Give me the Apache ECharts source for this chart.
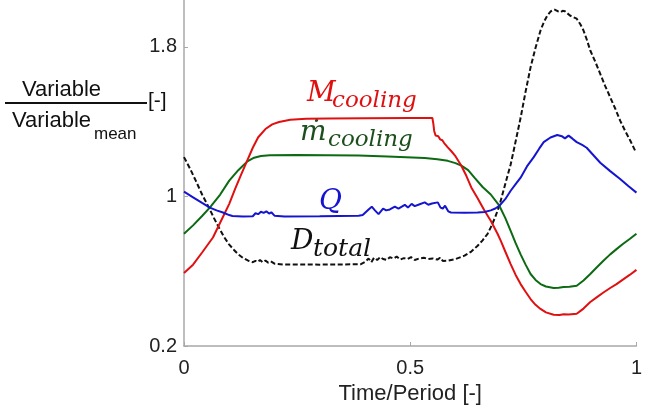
<!DOCTYPE html>
<html><head><meta charset="utf-8">
<script src="https://cdn.jsdelivr.net/npm/echarts@6/dist/echarts.min.js"></script>
<style>html,body{margin:0;padding:0;background:#fff}#c{width:645px;height:410px}</style>
</head><body><div id="c"></div>
<script>
const xTicks = [0, 0.5, 1];
const yTicks = [0.2, 1, 1.8];

const mCooling = [[0,0.59],[0.02,0.635],[0.04,0.70],[0.064,0.78],[0.086,0.89],[0.1,0.96],[0.113,1.04],[0.126,1.115],[0.139,1.187],[0.152,1.26],[0.164,1.316],[0.18,1.36],[0.195,1.385],[0.21,1.398],[0.235,1.41],[0.27,1.415],[0.32,1.417],[0.4,1.418],[0.5,1.419],[0.549,1.419],[0.551,1.39],[0.553,1.35],[0.556,1.325],[0.562,1.322],[0.566,1.305],[0.571,1.30],[0.575,1.285],[0.579,1.28],[0.583,1.262],[0.587,1.258],[0.59,1.244],[0.6,1.215],[0.613,1.164],[0.624,1.11],[0.635,1.048],[0.649,0.99],[0.664,0.924],[0.678,0.87],[0.693,0.80],[0.70,0.763],[0.711,0.70],[0.722,0.638],[0.733,0.58],[0.744,0.531],[0.755,0.49],[0.766,0.451],[0.777,0.42],[0.788,0.398],[0.80,0.38],[0.817,0.367],[0.83,0.366],[0.839,0.37],[0.85,0.368],[0.868,0.372],[0.883,0.40],[0.898,0.435],[0.912,0.46],[0.927,0.486],[0.942,0.51],[0.956,0.531],[0.97,0.555],[0.985,0.58],[1,0.607]];

const mDotCooling = [[0,0.80],[0.02,0.845],[0.04,0.895],[0.057,0.94],[0.08,1.01],[0.10,1.084],[0.12,1.14],[0.14,1.187],[0.155,1.207],[0.17,1.216],[0.19,1.22],[0.25,1.221],[0.386,1.218],[0.45,1.213],[0.532,1.205],[0.56,1.199],[0.583,1.19],[0.60,1.178],[0.613,1.164],[0.628,1.14],[0.642,1.10],[0.66,1.05],[0.678,1.01],[0.697,0.95],[0.71,0.885],[0.722,0.816],[0.733,0.75],[0.744,0.69],[0.755,0.635],[0.766,0.585],[0.777,0.553],[0.788,0.531],[0.80,0.518],[0.817,0.51],[0.828,0.512],[0.839,0.515],[0.852,0.517],[0.868,0.522],[0.883,0.55],[0.898,0.585],[0.912,0.62],[0.927,0.656],[0.942,0.69],[0.956,0.718],[0.97,0.745],[0.985,0.772],[1,0.80]];

const qValues = [[0,1.025],[0.02,0.995],[0.04,0.965],[0.057,0.94],[0.072,0.925],[0.086,0.914],[0.1,0.9],[0.107,0.895],[0.13,0.893],[0.152,0.894],[0.158,0.91],[0.164,0.905],[0.17,0.918],[0.176,0.912],[0.182,0.92],[0.188,0.908],[0.193,0.915],[0.2,0.897],[0.222,0.893],[0.3,0.894],[0.386,0.897],[0.395,0.9],[0.408,0.93],[0.415,0.945],[0.422,0.925],[0.43,0.905],[0.44,0.935],[0.447,0.925],[0.455,0.93],[0.466,0.945],[0.474,0.935],[0.488,0.955],[0.495,0.94],[0.503,0.96],[0.51,0.948],[0.518,0.955],[0.532,0.968],[0.54,0.955],[0.548,0.962],[0.561,0.968],[0.567,0.94],[0.572,0.935],[0.577,0.95],[0.584,0.92],[0.59,0.914],[0.62,0.913],[0.649,0.914],[0.664,0.916],[0.678,0.925],[0.688,0.935],[0.697,0.95],[0.71,0.985],[0.722,1.03],[0.733,1.065],[0.744,1.10],[0.758,1.16],[0.773,1.21],[0.785,1.255],[0.795,1.29],[0.81,1.315],[0.825,1.328],[0.835,1.322],[0.842,1.31],[0.85,1.325],[0.858,1.31],[0.868,1.29],[0.88,1.275],[0.89,1.26],[0.905,1.22],[0.92,1.18],[0.942,1.135],[0.964,1.093],[0.982,1.055],[1,1.02]];

const dTotal = [[0,1.21],[0.013,1.15],[0.026,1.084],[0.04,1.01],[0.055,0.94],[0.066,0.885],[0.077,0.834],[0.088,0.785],[0.099,0.745],[0.11,0.715],[0.12,0.69],[0.131,0.67],[0.142,0.656],[0.152,0.648],[0.158,0.655],[0.163,0.65],[0.168,0.66],[0.174,0.648],[0.18,0.657],[0.186,0.646],[0.192,0.652],[0.2,0.64],[0.22,0.636],[0.3,0.635],[0.39,0.637],[0.4,0.65],[0.408,0.668],[0.414,0.648],[0.42,0.672],[0.427,0.66],[0.434,0.676],[0.44,0.665],[0.448,0.66],[0.455,0.675],[0.463,0.668],[0.47,0.678],[0.478,0.662],[0.486,0.67],[0.494,0.665],[0.502,0.675],[0.51,0.66],[0.52,0.668],[0.53,0.672],[0.54,0.665],[0.55,0.668],[0.56,0.662],[0.566,0.672],[0.572,0.655],[0.583,0.656],[0.6,0.665],[0.62,0.683],[0.635,0.705],[0.649,0.736],[0.66,0.765],[0.671,0.80],[0.678,0.834],[0.688,0.89],[0.697,0.95],[0.706,1.03],[0.715,1.11],[0.722,1.17],[0.73,1.26],[0.737,1.34],[0.744,1.42],[0.755,1.56],[0.766,1.69],[0.777,1.795],[0.788,1.887],[0.796,1.935],[0.803,1.967],[0.811,1.99],[0.819,1.999],[0.826,1.99],[0.832,1.985],[0.837,1.992],[0.842,1.99],[0.853,1.967],[0.868,1.95],[0.876,1.92],[0.883,1.887],[0.89,1.84],[0.898,1.78],[0.909,1.72],[0.92,1.655],[0.931,1.59],[0.942,1.53],[0.953,1.47],[0.964,1.405],[0.975,1.35],[0.986,1.3],[0.997,1.245]];

const sans = 'Liberation Sans, Arial, sans-serif';
const serif = 'DejaVu Serif, serif';
const chart = echarts.init(document.getElementById('c'), null, {renderer:'canvas'});
const axisCommon = {
  axisLine:{show:true, lineStyle:{color:'#a8a8a8', width:1.5}},
  axisTick:{show:true, inside:true, length:4, lineStyle:{color:'#a8a8a8'}},
  splitLine:{show:false},
  axisLabel:{color:'#222', fontSize:20, fontFamily:sans}
};
function lineSeries(name, data, color, type){
  return {name, type:'line', data, symbol:'none', smooth:false, z:2,
    lineStyle:{color, width:2, type: type||'solid'}};
}
chart.setOption({
  animation:false,
  backgroundColor:'#fff',
  grid:{left:184, right:5, top:0, bottom:64},
  xAxis:Object.assign({}, axisCommon, {
    type:'value', min:0, max:1,
    name:'Time/Period [-]', nameLocation:'middle', nameGap:37,
    nameTextStyle:{color:'#222', fontSize:22, fontFamily:sans},
    axisTick:Object.assign({}, axisCommon.axisTick, {customValues:xTicks}),
    axisLabel:Object.assign({}, axisCommon.axisLabel, {margin:12, customValues:xTicks, formatter:v=>String(v)})
  }),
  yAxis:Object.assign({}, axisCommon, {
    type:'value', min:0.2, max:2.05,
    axisTick:Object.assign({}, axisCommon.axisTick, {customValues:yTicks}),
    axisLabel:Object.assign({}, axisCommon.axisLabel, {margin:7, customValues:yTicks, formatter:v=>String(v)})
  }),
  series:[
    lineSeries('D_total', dTotal, '#111', [5,2.5]),
    lineSeries('m_dot_cooling', mDotCooling, '#0b6a12'),
    lineSeries('M_cooling', mCooling, '#e01010'),
    lineSeries('Q', qValues, '#1515d0')
  ],
  graphic:[
    {type:'text', left:22, top:79, style:{text:'Variable', fontSize:22, fontFamily:sans, fill:'#111'}},
    {type:'line', shape:{x1:5, y1:103, x2:147, y2:103}, style:{stroke:'#111', lineWidth:2}},
    {type:'text', left:148, top:91, style:{text:'[-]', fontSize:21, fontFamily:sans, fill:'#111'}},
    {type:'text', left:12, top:110, style:{text:'Variable', fontSize:22, fontFamily:sans, fill:'#111'}},
    {type:'text', left:94, top:126, style:{text:'mean', fontSize:17, fontFamily:sans, fill:'#111'}},

    {type:'text', left:307, top:80, style:{text:'M', fontSize:28, fontStyle:'italic', fontFamily:serif, fill:'#e01010'}},
    {type:'text', left:332, top:90, style:{text:'cooling', fontSize:23, fontStyle:'italic', fontFamily:serif, fill:'#e01010'}},
    {type:'text', left:300, top:119, style:{text:'ṁ', fontSize:28, fontStyle:'italic', fontFamily:serif, fill:'#1d4f1d'}},
    {type:'text', left:328, top:129, style:{text:'cooling', fontSize:23, fontStyle:'italic', fontFamily:serif, fill:'#1d4f1d'}},
    {type:'text', left:319, top:188, style:{text:'Q', fontSize:28, fontStyle:'italic', fontFamily:serif, fill:'#1515d0'}},
    {type:'text', left:291, top:228, style:{text:'D', fontSize:28, fontStyle:'italic', fontFamily:serif, fill:'#111'}},
    {type:'text', left:313, top:237, style:{text:'total', fontSize:25, fontStyle:'italic', fontFamily:serif, fill:'#111'}}
  ]
});
</script></body></html>
